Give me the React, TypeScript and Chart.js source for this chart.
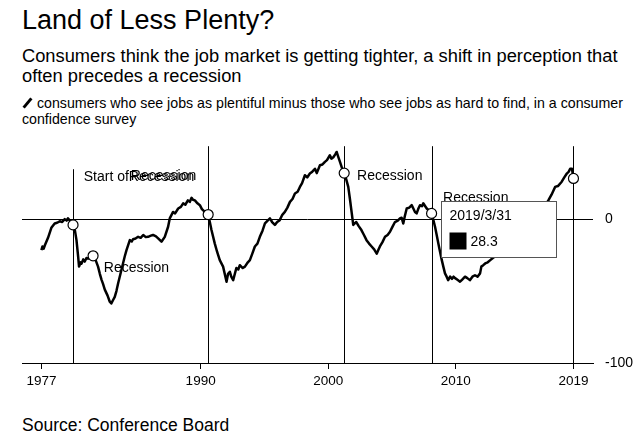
import React, { useEffect, useRef } from "react";
import { Chart, registerables } from "chart.js";

Chart.register(...registerables);

const FONT = "'Liberation Sans', Arial, Helvetica, sans-serif";

// Decimal years of each observation
const dates: number[] = [
  1977.52, 1977.6, 1977.7, 1977.8, 1978.04, 1978.3, 1978.56, 1978.75, 1978.96, 1979.15,
  1979.35, 1979.5, 1979.6, 1979.75, 1979.87, 1980.0, 1980.15, 1980.27, 1980.4, 1980.47,
  1980.6, 1980.66, 1980.8, 1980.92, 1981.05, 1981.18, 1981.35, 1981.57, 1981.75, 1981.96,
  1982.1, 1982.23, 1982.35, 1982.49, 1982.7, 1982.88, 1983.0, 1983.15, 1983.27, 1983.4,
  1983.53, 1983.8, 1984.05, 1984.19, 1984.45, 1984.6, 1984.7, 1984.9, 1985.1, 1985.3,
  1985.5, 1985.7, 1985.88, 1986.1, 1986.27, 1986.5, 1986.67, 1986.93, 1987.19, 1987.45,
  1987.58, 1987.84, 1988.0, 1988.24, 1988.45, 1988.63, 1988.8, 1989.0, 1989.15, 1989.29,
  1989.4, 1989.55, 1989.75, 1989.94, 1990.1, 1990.33, 1990.59, 1990.72, 1990.85, 1991.11,
  1991.3, 1991.5, 1991.76, 1992.03, 1992.15, 1992.29, 1992.4, 1992.55, 1992.8, 1992.95,
  1993.07, 1993.3, 1993.47, 1993.7, 1993.86, 1994.05, 1994.25, 1994.45, 1994.64, 1994.85,
  1995.04, 1995.25, 1995.43, 1995.6, 1995.82, 1996.0, 1996.2, 1996.4, 1996.6, 1996.8,
  1997.0, 1997.2, 1997.39, 1997.6, 1997.78, 1997.95, 1998.17, 1998.35, 1998.56, 1998.75,
  1998.96, 1999.1, 1999.35, 1999.55, 1999.74, 1999.9, 2000.13, 2000.25, 2000.4, 2000.55,
  2000.66, 2000.8, 2000.92, 2001.1, 2001.25, 2001.4, 2001.57, 2001.7, 2001.83, 2001.96,
  2002.08, 2002.2, 2002.4, 2002.6, 2002.8, 2003.0, 2003.2, 2003.4, 2003.6, 2003.8,
  2003.95, 2004.05, 2004.25, 2004.45, 2004.65, 2004.84, 2005.05, 2005.23, 2005.45, 2005.62,
  2005.75, 2005.88, 2006.0, 2006.15, 2006.35, 2006.54, 2006.67, 2006.8, 2006.93, 2007.05,
  2007.19, 2007.35, 2007.45, 2007.6, 2007.72, 2007.9, 2008.1, 2008.25, 2008.37, 2008.5,
  2008.63, 2008.77, 2008.9, 2009.02, 2009.15, 2009.28, 2009.4, 2009.55, 2009.7, 2009.82,
  2009.94, 2010.1, 2010.33, 2010.5, 2010.72, 2010.9, 2011.1, 2011.3, 2011.5, 2011.7,
  2011.9, 2012.0, 2012.15, 2012.3, 2012.5, 2012.7, 2012.9, 2013.07, 2013.3, 2013.55,
  2013.8, 2014.05, 2014.3, 2014.55, 2014.8, 2015.05, 2015.3, 2015.55, 2015.8, 2016.05,
  2016.3, 2016.55, 2016.8, 2017.05, 2017.25, 2017.5, 2017.78, 2018.0, 2018.3, 2018.5,
  2018.7, 2018.85, 2018.96, 2019.1, 2019.22,
];

// Jobs plentiful minus jobs hard to find
const values: number[] = [
  -21.5, -19, -20.5, -18, -13, -6, -3, -2.5, -1.5, -2,
  0, -1, 0.5, -1, -2, -4, -8, -14.6, -26, -33,
  -30, -31, -28, -29.5, -27, -27.5, -26, -25.5, -28, -33,
  -38, -42, -45, -49, -53, -57.4, -58.6, -56, -54, -50,
  -44.7, -35, -26, -21.5, -14.6, -15.5, -14, -13.5, -12.3, -13,
  -11, -12.5, -12.3, -11.5, -11, -12, -13.4, -15.7, -12.3, -5.3,
  0.5, 5, 4, 7.4, 8.5, 11, 10, 13, 12, 14.8,
  13.5, 13, 11, 9.7, 7, 5, 3.2, -2, -7.6, -17,
  -23, -28.5, -33, -43.5, -38, -36.6, -40, -42.4, -34, -35,
  -32, -34, -33, -30, -28.5, -24, -19, -17, -12.3, -8,
  -3, -1, 0.5, -2, -4, -2, -0.7, 3, 5, 8,
  12, 14, 17.8, 19, 22.4, 25, 30.5, 29, 31.7, 33,
  35, 32, 37.5, 38, 39.8, 41, 44.4, 42, 43, 45,
  46.7, 43, 39.8, 35, 32, 28, 22.4, 14, 5, -4,
  -3, -2, -5, -7.6, -11, -14.6, -17, -19, -21, -24,
  -21, -19, -16, -12.3, -11, -8.8, -5, -2, -1, 0.5,
  1, -3, 2, 7.4, 8, 9.7, 7.4, 5, 4, 7,
  9.7, 9, 11, 9, 7.4, 6, 4, -1, -5.3, -11,
  -17, -23, -28.5, -33, -37.7, -40, -42.4, -40, -41.5, -40,
  -41, -42, -43.5, -42, -40, -41, -42.4, -40, -39, -40,
  -37.7, -33, -32, -30.8, -30, -28.5, -27, -26, -25, -22,
  -21, -17, -14, -11, -8, -6, -4, -2, -1, 0,
  2, 3, 6, 10, 13, 17, 22.4, 23, 26, 29,
  31.7, 33, 35, 35, 28.3,
];

// Recession-start markers (circles)
const markerDates: number[] = [1980.0, 1981.57, 1990.59, 2001.25, 2008.1, 2019.22];
const markerValues: number[] = [-4, -25.5, 3.2, 32, 4, 28.3];

// Vertical reference lines
const vlineDates: number[] = [1980.0, 1990.59, 2001.25, 2008.1, 2019.22];

// X-axis ticks
const tickPositions: number[] = [1977.52, 1990, 2000, 2010, 2019.22];
const tickLabels: string[] = ["1977", "1990", "2000", "2010", "2019"];

// Y-axis ticks
const yTicks: number[] = [-100, 0];

// Annotation labels
const noteTexts: string[] = ["Start of", "Recession", "Recession", "Recession", "Recession", "Recession"];
const noteDates: number[] = [1980.84, 1984.37, 1984.53, 1982.41, 2002.26, 2009.0];
const noteValues: number[] = [29.2, 29.2, 30.1, -34, 29.9, 14.6];

const tooltipDate = "2019/3/31";
const tooltipValue = values[values.length - 1];

const annotationPlugin = {
  id: "annotations",
  beforeDatasetsDraw(chart: any) {
    const { ctx, chartArea, scales } = chart;
    ctx.save();
    ctx.strokeStyle = "#000";
    ctx.lineWidth = 1;
    vlineDates.forEach((d, i) => {
      const x = Math.round(scales.x.getPixelForValue(d)) + 0.5;
      const top = i === 0 ? scales.y.getPixelForValue(34.7) : chartArea.top;
      ctx.beginPath();
      ctx.moveTo(x, top);
      ctx.lineTo(x, chartArea.bottom);
      ctx.stroke();
    });
    ctx.restore();
  },
  afterDatasetsDraw(chart: any) {
    const { ctx, scales } = chart;
    ctx.save();
    ctx.fillStyle = "#000";
    ctx.font = `14px ${FONT}`;
    ctx.textBaseline = "middle";
    noteTexts.forEach((t, i) => {
      const x = scales.x.getPixelForValue(noteDates[i]);
      const y = scales.y.getPixelForValue(noteValues[i]);
      ctx.fillText(t, x, y);
    });
    ctx.restore();
  },
  afterDraw(chart: any) {
    const { ctx } = chart;
    ctx.save();
    const bx = 441.5, by = 61.5, bw = 115, bh = 56;
    ctx.fillStyle = "#fff";
    ctx.fillRect(bx, by, bw, bh);
    ctx.strokeStyle = "#555";
    ctx.lineWidth = 1;
    ctx.strokeRect(bx, by, bw, bh);
    ctx.fillStyle = "#000";
    ctx.font = `14px ${FONT}`;
    ctx.textBaseline = "middle";
    ctx.fillText(tooltipDate, bx + 8, by + 15);
    ctx.fillRect(bx + 8, by + 31, 17, 17);
    ctx.fillText(String(tooltipValue), bx + 29, by + 41);
    ctx.restore();
  },
};

function ChartCanvas() {
  const ref = useRef<HTMLCanvasElement | null>(null);
  useEffect(() => {
    if (!ref.current) return;
    const chart = new Chart(ref.current, {
      type: "line",
      data: {
        datasets: [
          {
            type: "scatter",
            data: markerDates.map((d, i) => ({ x: d, y: markerValues[i] })),
            pointRadius: 5,
            pointBackgroundColor: "#fff",
            pointBorderColor: "#000",
            pointBorderWidth: 1.2,
            order: 0,
          } as any,
          {
            data: dates.map((d, i) => ({ x: d, y: values[i] })),
            borderColor: "#000",
            borderWidth: 2.5,
            pointRadius: 0,
            tension: 0,
            borderJoinStyle: "round",
            fill: false,
            order: 1,
          },
        ],
      },
      options: {
        responsive: false,
        animation: false,
        layout: { padding: { left: 22, top: 6, right: 0, bottom: 0 } },
        plugins: { legend: { display: false }, tooltip: { enabled: false } },
        scales: {
          x: {
            type: "linear",
            min: 1976,
            max: 2020.75,
            afterBuildTicks: (s: any) => {
              s.ticks = tickPositions.map((v) => ({ value: v }));
            },
            afterFit: (s: any) => {
              s.height = 37;
              s.paddingLeft = 0;
              s.paddingRight = 0;
            },
            ticks: {
              callback: (_v: any, i: number) => tickLabels[i],
              autoSkip: false,
              maxRotation: 0,
              padding: 4,
              color: "#000",
              font: { family: FONT, size: 13.5 },
            },
            grid: { drawOnChartArea: false, drawTicks: true, tickLength: 6, color: "#000", lineWidth: 1 },
            border: { display: true, color: "#000", width: 1 },
          },
          y: {
            type: "linear",
            position: "right",
            min: -100,
            max: 50.7,
            afterBuildTicks: (s: any) => {
              s.ticks = yTicks.map((v) => ({ value: v }));
            },
            afterFit: (s: any) => {
              s.width = 47;
              s.paddingTop = 0;
              s.paddingBottom = 0;
            },
            ticks: { padding: 12, color: "#000", font: { family: FONT, size: 14 } },
            grid: { color: "#000", lineWidth: 1, drawTicks: false },
            border: { display: false },
          },
        },
      } as any,
      plugins: [annotationPlugin],
    });
    return () => chart.destroy();
  }, []);
  return (
    <canvas
      ref={ref}
      width={640}
      height={260}
      style={{ position: "absolute", left: 0, top: 140, width: 640, height: 260 }}
    />
  );
}

export default function App() {
  return (
    <div
      style={{
        position: "absolute",
        left: 0,
        top: 0,
        width: 640,
        height: 441,
        background: "#fff",
        fontFamily: FONT,
        color: "#000",
        overflow: "hidden",
      }}
    >
      <div style={{ position: "absolute", left: 22, top: 4, fontSize: 27, lineHeight: "32px" }}>
        Land of Less Plenty?
      </div>
      <div style={{ position: "absolute", left: 22, top: 46, width: 600, fontSize: 18.3, lineHeight: "20px" }}>
        Consumers think the job market is getting tighter, a shift in perception that often precedes a recession
      </div>
      <div style={{ position: "absolute", left: 22, top: 95, width: 616, fontSize: 14.2, lineHeight: "16px" }}>
        <span
          style={{
            display: "inline-block",
            width: 3,
            height: 12,
            background: "#000",
            transform: "rotate(40deg)",
            marginLeft: 4,
            marginRight: 8,
            verticalAlign: "-1px",
          }}
        />
        consumers who see jobs as plentiful minus those who see jobs as hard to find, in a consumer confidence survey
      </div>
      <ChartCanvas />
      <div style={{ position: "absolute", left: 22, top: 415, fontSize: 17.5, lineHeight: "20px" }}>
        Source: Conference Board
      </div>
    </div>
  );
}
